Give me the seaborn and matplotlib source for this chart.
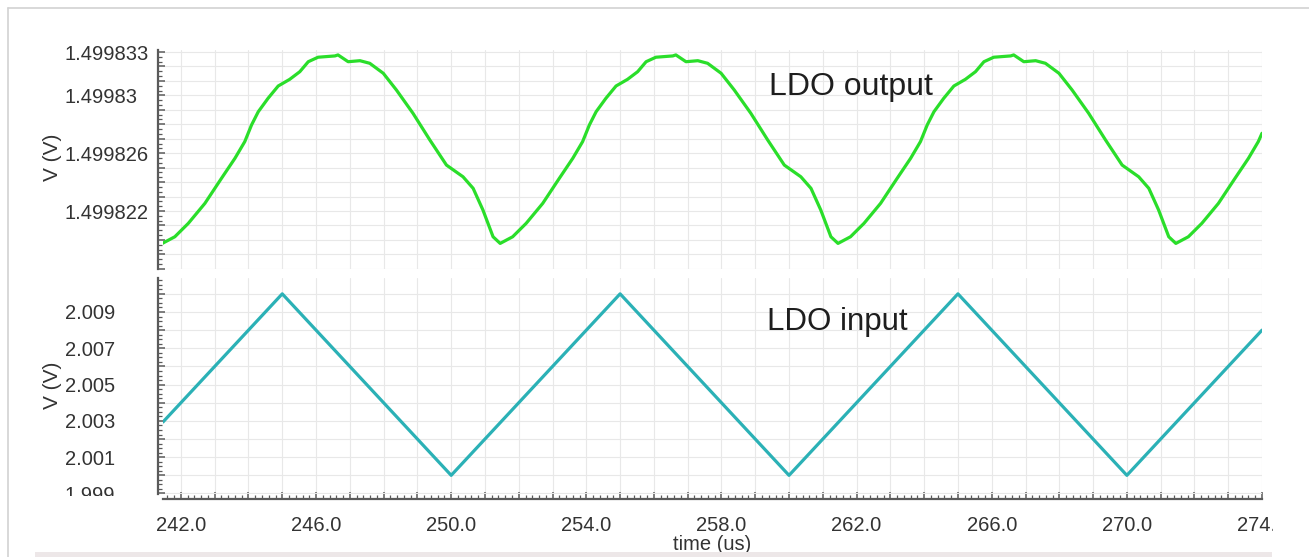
import numpy as np
import pandas as pd
import seaborn as sns
import matplotlib.pyplot as plt
from matplotlib.ticker import MultipleLocator, AutoMinorLocator, FuncFormatter
from matplotlib.transforms import Bbox, TransformedBbox
from matplotlib.patches import Rectangle
from matplotlib.lines import Line2D

# --- LDO output (V)
out_time = [
    241.45, 241.82, 242.22, 242.71, 243.20, 243.60, 243.89, 244.09, 244.29, 244.58,
    244.88, 245.22, 245.52, 245.77, 246.06, 246.56, 246.65, 246.95, 247.30, 247.59,
    247.99, 248.38, 248.87, 249.37, 249.86, 250.35, 250.65, 250.94, 251.24,
    251.45, 251.82, 252.22, 252.71, 253.20, 253.60, 253.89, 254.09, 254.29, 254.58,
    254.88, 255.22, 255.52, 255.77, 256.06, 256.56, 256.65, 256.95, 257.30, 257.59,
    257.99, 258.38, 258.87, 259.37, 259.86, 260.35, 260.65, 260.94, 261.24,
    261.45, 261.82, 262.22, 262.71, 263.20, 263.60, 263.89, 264.09, 264.29, 264.58,
    264.88, 265.22, 265.52, 265.77, 266.06, 266.56, 266.65, 266.95, 267.30, 267.59,
    267.99, 268.38, 268.87, 269.37, 269.86, 270.35, 270.65, 270.94, 271.24,
    271.45, 271.82, 272.22, 272.71, 273.20, 273.60, 273.89, 274.00,
]
out_volt = [
    1.49981976, 1.49982022, 1.49982115, 1.49982253, 1.49982426, 1.49982565, 1.49982680, 1.49982795, 1.49982887, 1.49982980,
    1.49983065, 1.49983111, 1.49983164, 1.49983233, 1.49983264, 1.49983273, 1.49983280, 1.49983233, 1.49983240, 1.49983222,
    1.49983153, 1.49983037, 1.49982876, 1.49982691, 1.49982518, 1.49982437, 1.49982357, 1.49982207, 1.49982022,
    1.49981976, 1.49982022, 1.49982115, 1.49982253, 1.49982426, 1.49982565, 1.49982680, 1.49982795, 1.49982887, 1.49982980,
    1.49983065, 1.49983111, 1.49983164, 1.49983233, 1.49983264, 1.49983273, 1.49983280, 1.49983233, 1.49983240, 1.49983222,
    1.49983153, 1.49983037, 1.49982876, 1.49982691, 1.49982518, 1.49982437, 1.49982357, 1.49982207, 1.49982022,
    1.49981976, 1.49982022, 1.49982115, 1.49982253, 1.49982426, 1.49982565, 1.49982680, 1.49982795, 1.49982887, 1.49982980,
    1.49983065, 1.49983111, 1.49983164, 1.49983233, 1.49983264, 1.49983273, 1.49983280, 1.49983233, 1.49983240, 1.49983222,
    1.49983153, 1.49983037, 1.49982876, 1.49982691, 1.49982518, 1.49982437, 1.49982357, 1.49982207, 1.49982022,
    1.49981976, 1.49982022, 1.49982115, 1.49982253, 1.49982426, 1.49982565, 1.49982680, 1.49982738,
]

# --- LDO input (V), triangle corners
in_time = [241.47, 245.0, 250.0, 255.0, 260.0, 265.0, 270.0, 274.0]
in_volt = [2.00294, 2.0100, 2.0000, 2.0100, 2.0000, 2.0100, 2.0000, 2.0080]

out_labels = [1.499822, 1.499826, 1.49983, 1.499833]
in_labels = [1.999, 2.001, 2.003, 2.005, 2.007, 2.009]
x_labels = [242, 246, 250, 254, 258, 262, 266, 270, 274]

out_df = pd.DataFrame({"time": out_time, "v": out_volt})
in_df = pd.DataFrame({"time": in_time, "v": in_volt})

sns.set_style("white")
plt.rcParams["font.family"] = ["Liberation Sans", "DejaVu Sans"]

W, H = 1309, 557
GREEN = "#2ade2a"
TEAL = "#2bb1b6"
SPINE = "#5a5a5a"
TXT = "#333333"

fig = plt.figure(figsize=(W / 100, H / 100), dpi=100)
ax_out = fig.add_axes([163 / W, 1 - 269 / H, 1099 / W, 219 / H])
ax_in = fig.add_axes([163 / W, 1 - 494 / H, 1099 / W, 216 / H], sharex=ax_out)

sns.lineplot(data=out_df, x="time", y="v", ax=ax_out, color=GREEN, lw=2.3,
             estimator=None, errorbar=None,
             solid_joinstyle="round", solid_capstyle="round")
sns.lineplot(data=in_df, x="time", y="v", ax=ax_in, color=TEAL, lw=2.3,
             estimator=None, errorbar=None)

ax_out.set_xlim(241.47, 274.0)
ax_out.set_ylim(1.49981799, 1.49983314)
ax_in.set_ylim(1.998972, 2.010873)

# ticks / grid
ax_in.xaxis.set_major_locator(MultipleLocator(1))
ax_in.xaxis.set_minor_locator(AutoMinorLocator(5))
ax_in.xaxis.set_major_formatter(FuncFormatter(
    lambda v, p: f"{v:.1f}" if int(round(v)) in x_labels else ""))

ax_out.yaxis.set_major_locator(MultipleLocator(1e-6))
ax_out.yaxis.set_minor_locator(AutoMinorLocator(3))
ax_out.yaxis.set_major_formatter(FuncFormatter(
    lambda v, p: f"{v:.6f}".rstrip("0")
    if any(abs(v - l) < 2e-8 for l in out_labels) else ""))

ax_in.yaxis.set_major_locator(MultipleLocator(0.001))
ax_in.yaxis.set_minor_locator(AutoMinorLocator(4))
ax_in.yaxis.set_major_formatter(FuncFormatter(
    lambda v, p: f"{v:.3f}" if any(abs(v - l) < 1e-5 for l in in_labels) else ""))

for ax in (ax_out, ax_in):
    ax.grid(True, which="major", color="#e8e8e8", lw=0.8)
    ax.set_axisbelow(True)
    ax.tick_params(axis="y", which="major", left=True, direction="in", length=5,
                   width=1.1, color=SPINE, labelsize=14.5, labelcolor=TXT, pad=67)
    ax.tick_params(axis="y", which="minor", left=True, direction="in", length=3,
                   width=0.9, color=SPINE)
    ax.set_ylabel("V (V)", fontsize=15, color="#333333")
    ax.yaxis.label.set_va("center")

ax_out.yaxis.set_label_coords(-0.101, 0.51)
ax_in.yaxis.set_label_coords(-0.101, 0.505)

ax_out.tick_params(axis="x", which="both", bottom=False, labelbottom=False)
ax_out.set_xlabel("")
ax_in.tick_params(axis="x", which="major", bottom=True, direction="in", length=5,
                  width=1.1, color=SPINE, labelsize=14.5, labelcolor=TXT, pad=12)
ax_in.tick_params(axis="x", which="minor", bottom=True, direction="in", length=3,
                  width=0.9, color=SPINE)
ax_in.set_xlabel("time (us)", fontsize=14.5, color="#333333")
ax_in.xaxis.set_label_coords(0.5, -0.236)
ax_in.xaxis.label.set_va("center")

sns.despine(ax=ax_out, bottom=True, offset=3.6)
sns.despine(ax=ax_in, offset=3.6)
for ax in (ax_out, ax_in):
    for s in ("left", "bottom"):
        ax.spines[s].set_color(SPINE)
        ax.spines[s].set_linewidth(1.6)

ax_out.text(0.5514, 0.7945, "LDO output", transform=ax_out.transAxes,
            fontsize=23, color="#1e1e1e", va="baseline", ha="left")
ax_in.text(0.5496, 0.759, "LDO input", transform=ax_in.transAxes,
           fontsize=22.5, color="#1e1e1e", va="baseline", ha="left")

# window frame
fig.add_artist(Line2D([8 / W, 1], [1 - 8 / H, 1 - 8 / H], transform=fig.transFigure,
                      color="#d2d2d2", lw=1.2))
fig.add_artist(Line2D([8 / W, 8 / W], [0, 1 - 8 / H], transform=fig.transFigure,
                      color="#d2d2d2", lw=1.2))
fig.add_artist(Rectangle((35 / W, 0), (1272 - 35) / W, 5 / H, transform=fig.transFigure,
                         color="#ede7e8", lw=0))

fig.canvas.draw()
for ax in (ax_out, ax_in):
    plt.setp(ax.get_yticklabels(), ha="left")

# clip labels cut at the plot edges
clip_bottom = TransformedBbox(Bbox([[0, 1 - 496 / H], [1, 1]]), fig.transFigure)
for tick, loc in zip(ax_in.yaxis.get_major_ticks(), ax_in.yaxis.get_majorticklocs()):
    if abs(loc - 1.999) < 1e-5:
        tick.label1.set_clip_box(clip_bottom)
        tick.label1.set_clip_on(True)
clip_right = TransformedBbox(Bbox([[0, 0], [1273 / W, 1]]), fig.transFigure)
for tick, loc in zip(ax_in.xaxis.get_major_ticks(), ax_in.xaxis.get_majorticklocs()):
    if abs(loc - 274) < 1e-6:
        tick.label1.set_clip_box(clip_right)
        tick.label1.set_clip_on(True)

fig.savefig("out.png", dpi=100)
